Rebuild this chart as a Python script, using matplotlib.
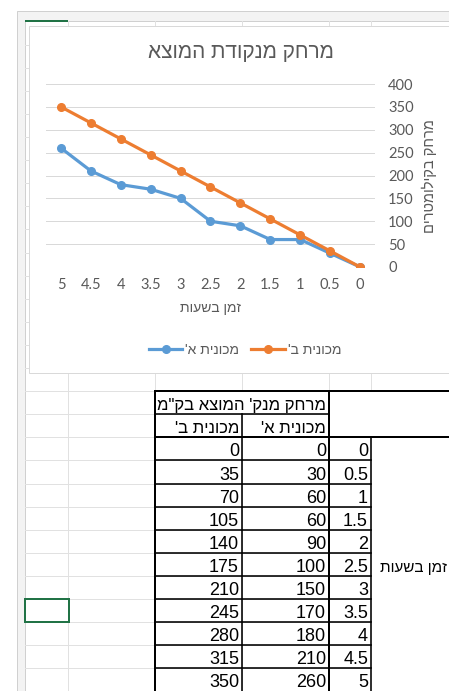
import matplotlib.pyplot as plt
from matplotlib.patches import Rectangle
from matplotlib.lines import Line2D

# distance from the start point, per hour
hours = [0, 0.5, 1, 1.5, 2, 2.5, 3, 3.5, 4, 4.5, 5]
car_a = [0, 30, 60, 60, 90, 100, 150, 170, 180, 210, 260]
car_b = [0, 35, 70, 105, 140, 175, 210, 245, 280, 315, 350]
y_ticks = [0, 50, 100, 150, 200, 250, 300, 350, 400]

chart_title = "מרחק מנקודת המוצא"
x_title = "זמן בשעות"
y_title = "מרחק בקילומטרים"
name_a = "מכונית א'"
name_b = "מכונית ב'"
table_head = 'מרחק מנק\' המוצא בק"מ'

W, H = 449, 691
PX = 0.72  # one pixel in points at dpi 100
BLUE = "#5B9BD5"
ORANGE = "#ED7D31"
TXT = "#595959"
GRID = "#D9D9D9"
SHEET = "#E1E1E1"
GREEN = "#217346"

plt.rcParams['font.family'] = ['Liberation Sans', 'DejaVu Sans']


def rtl(s):
    # matplotlib has no bidi support, so hand it the visual order
    return s[::-1]


fig = plt.figure(figsize=(W / 100, H / 100), dpi=100)
bg = fig.add_axes([0, 0, 1, 1])
bg.set_xlim(0, W)
bg.set_ylim(H, 0)
bg.axis('off')

# window frame and sheet
bg.add_patch(Rectangle((17, 11), W, H, fc="#F3F3F3", ec="#D0D0D0", lw=PX))
bg.add_patch(Rectangle((24.5, 20.5), W, H, fc="white", ec="#D0D0D0", lw=PX))
bg.plot([25, 68], [21, 21], color=GREEN, lw=2 * PX, solid_capstyle='butt')

cols = [68, 155, 242, 329, 371]
row0, rh = 21.5, 23.1
rows = [row0 + rh * k for k in range(31)]
for x in cols:
    bg.plot([x, x], [21, H], color=SHEET, lw=PX)
for y in rows[1:]:
    bg.plot([25, W], [y, y], color=SHEET, lw=PX)

# selected cell
bg.add_patch(Rectangle((25, rows[25]), 43.5, rh, fill=False, ec=GREEN, lw=2 * PX, zorder=4))

# table: merged cells hide the sheet grid
top, mid, hdr_bot = rows[16], rows[17], rows[18]
bg.add_patch(Rectangle((155, top), 174, rh, fc="white", ec="none", zorder=2))
bg.add_patch(Rectangle((329, top), W, 2 * rh, fc="white", ec="none", zorder=2))
bg.add_patch(Rectangle((371, hdr_bot), W, H, fc="white", ec="none", zorder=2))

thick, thin = 2 * PX, 1.6 * PX
n = len(hours)
bottom = hdr_bot + rh * n
for x in [242, 371]:
    y0 = mid if x == 242 else hdr_bot
    bg.plot([x, x], [y0, bottom], color="black", lw=thin, zorder=3)
for i in range(1, n):
    y = hdr_bot + rh * i
    bg.plot([155, 371], [y, y], color="black", lw=thin, zorder=3)
bg.plot([155, 329], [mid, mid], color="black", lw=thin, zorder=3)
for x in [155, 329]:
    bg.plot([x, x], [top, bottom], color="black", lw=thick, zorder=3)
for y in [top, hdr_bot]:
    bg.plot([155, W], [y, y], color="black", lw=thick, zorder=3)

cell_font = dict(fontsize=13, color="black", va='baseline', ha='right', zorder=5)
heb_font = dict(cell_font, fontsize=12)
bg.text(326, mid - 4, rtl(table_head), **heb_font)
bg.text(239, hdr_bot - 4, rtl(name_b), **heb_font)
bg.text(326, hdr_bot - 4, rtl(name_a), **heb_font)
for i, (t, a, b) in enumerate(zip(hours, car_a, car_b)):
    yb = hdr_bot + rh * (i + 1) - 4
    bg.text(239, yb, f"{b}", **cell_font)
    bg.text(326, yb, f"{a}", **cell_font)
    bg.text(368, yb, f"{t:g}", **cell_font)
bg.text(447, hdr_bot + rh * 6 - 4, rtl(x_title), **dict(heb_font, fontsize=11))

# chart area
bg.add_patch(Rectangle((29, 26), 428, 347, fc="white", ec=GRID, lw=PX, zorder=6))
bg.text(241, 52, rtl(chart_title), fontsize=15, color=TXT, ha='center', va='center', zorder=7)
bg.text(210, 308, rtl(x_title), fontsize=10, color=TXT, ha='center', va='center', zorder=7)
bg.text(429, 176, rtl(y_title), fontsize=10.5, color=TXT, ha='center', va='center',
        rotation=90, zorder=7)

ax = fig.add_axes([46 / W, (H - 267) / H, (375 - 46) / W, (267 - 84) / H], zorder=8)
ax.patch.set_alpha(0)
xs = list(range(n))
ax.plot(xs, car_a, color=BLUE, lw=2.3, marker='o', ms=5.5, solid_capstyle='round')
ax.plot(xs, car_b, color=ORANGE, lw=2.3, marker='o', ms=5.5, solid_capstyle='round')
ax.set_xlim(n - 0.5, -0.5)
ax.set_ylim(0, 400)
ax.set_yticks(y_ticks)
ax.set_xticks(xs)
ax.set_xticklabels([f"{t:g}" for t in hours])
ax.yaxis.tick_right()
ax.yaxis.grid(True, color=GRID, lw=PX)
ax.set_axisbelow(True)
for s in ax.spines.values():
    s.set_visible(False)
ax.tick_params(axis='y', length=0, pad=9.5, labelsize=10.5, labelcolor=TXT)
ax.tick_params(axis='x', length=0, pad=8, labelsize=10.5, labelcolor=TXT)
for lab in ax.get_xticklabels() + ax.get_yticklabels():
    lab.set_family(['Lato', 'DejaVu Sans'])

handles = [Line2D([], [], color=BLUE, lw=2.3, marker='o', ms=5.5),
           Line2D([], [], color=ORANGE, lw=2.3, marker='o', ms=5.5)]
ax.legend(handles, [rtl(name_a), rtl(name_b)], loc='center',
          bbox_to_anchor=(245 / W, 1 - 350 / H), bbox_transform=fig.transFigure,
          ncol=2, frameon=False, fontsize=10, labelcolor=TXT,
          handlelength=2.4, handletextpad=0.2, columnspacing=0.9)

fig.savefig("out.png", dpi=100)
